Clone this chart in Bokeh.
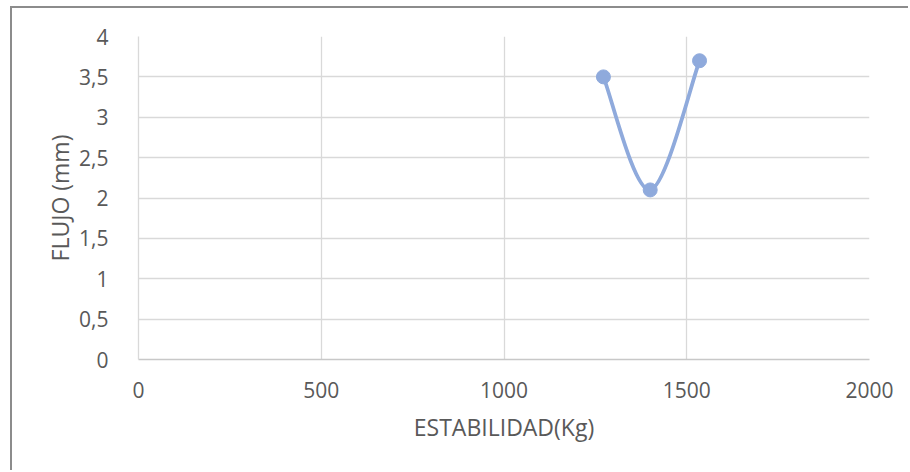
from bokeh.plotting import figure
from bokeh.models import Range1d, ColumnDataSource
from bokeh.embed import file_html
from bokeh.resources import INLINE

# Data
estabilidad = [1272, 1400, 1535]
flujo = [3.5, 2.1, 3.7]
x_ticks = [0, 500, 1000, 1500, 2000]
x_tick_labels = ["0", "500", "1000", "1500", "2000"]
y_ticks = [0, 0.5, 1, 1.5, 2, 2.5, 3, 3.5, 4]
y_tick_labels = ["0", "0,5", "1", "1,5", "2", "2,5", "3", "3,5", "4"]

FONT = "Open Sans"
TXT = "#595959"
GRID = "#D9D9D9"
COL = "#8FAADC"

p = figure(width=898, height=464, output_backend="svg", toolbar_location=None,
           x_range=Range1d(0, 2000), y_range=Range1d(0, 4),
           min_border_left=126, min_border_right=41, min_border_top=28, min_border_bottom=113)
p.margin = (6, 0, 0, 10)
p.styles = {"border-left": "2px solid #8C8C8C", "border-top": "2px solid #8C8C8C"}
p.outline_line_color = None
p.background_fill_color = "white"
p.border_fill_color = "white"

# Smooth (Excel-like Catmull-Rom) curve via bezier segments
n = len(estabilidad)
x0, y0, x1, y1, cx0, cy0, cx1, cy1 = [], [], [], [], [], [], [], []
for i in range(n - 1):
    pxm = estabilidad[max(i - 1, 0)]; pym = flujo[max(i - 1, 0)]
    pxa = estabilidad[i]; pya = flujo[i]
    pxb = estabilidad[i + 1]; pyb = flujo[i + 1]
    pxp = estabilidad[min(i + 2, n - 1)]; pyp = flujo[min(i + 2, n - 1)]
    x0.append(pxa); y0.append(pya); x1.append(pxb); y1.append(pyb)
    cx0.append(pxa + (pxb - pxm) / 6); cy0.append(pya + (pyb - pym) / 6)
    cx1.append(pxb - (pxp - pxa) / 6); cy1.append(pyb - (pyp - pya) / 6)
bsrc = ColumnDataSource(dict(x0=x0, y0=y0, x1=x1, y1=y1, cx0=cx0, cy0=cy0, cx1=cx1, cy1=cy1))
p.bezier(x0="x0", y0="y0", x1="x1", y1="y1", cx0="cx0", cy0="cy0", cx1="cx1", cy1="cy1",
         source=bsrc, line_color=COL, line_width=3.8)
p.scatter(estabilidad, flujo, size=14, fill_color=COL, line_color=COL)

# Grid
p.xgrid.ticker = x_ticks
p.ygrid.ticker = y_ticks
p.xgrid.grid_line_color = GRID
p.ygrid.grid_line_color = GRID
p.xgrid.grid_line_width = 1.3
p.ygrid.grid_line_width = 1.3

# Axes
p.xaxis.ticker = x_ticks
p.xaxis.major_label_overrides = dict(zip(x_ticks, x_tick_labels))
p.yaxis.ticker = y_ticks
p.yaxis.major_label_overrides = dict(zip(y_ticks, y_tick_labels))
for ax in (p.xaxis[0], p.yaxis[0]):
    ax.major_tick_line_color = None
    ax.minor_tick_line_color = None
    ax.major_label_text_font = FONT
    ax.major_label_text_font_size = "21px"
    ax.major_label_text_color = TXT
    ax.axis_label_text_font = FONT
    ax.axis_label_text_font_size = "23px"
    ax.axis_label_text_color = TXT
    ax.axis_label_text_font_style = "normal"
p.xaxis.axis_line_color = "#C8C8C8"
p.xaxis.axis_line_width = 1.5
p.yaxis.axis_line_color = GRID
p.yaxis.axis_line_width = 1.3
p.xaxis.axis_label = "ESTABILIDAD(Kg)"
p.yaxis.axis_label = "FLUJO (mm)"
p.xaxis.major_label_standoff = 16
p.yaxis.major_label_standoff = 24
p.xaxis.axis_label_standoff = 10
p.yaxis.axis_label_standoff = 0

open("out.html", "w").write(file_html(p, INLINE))
